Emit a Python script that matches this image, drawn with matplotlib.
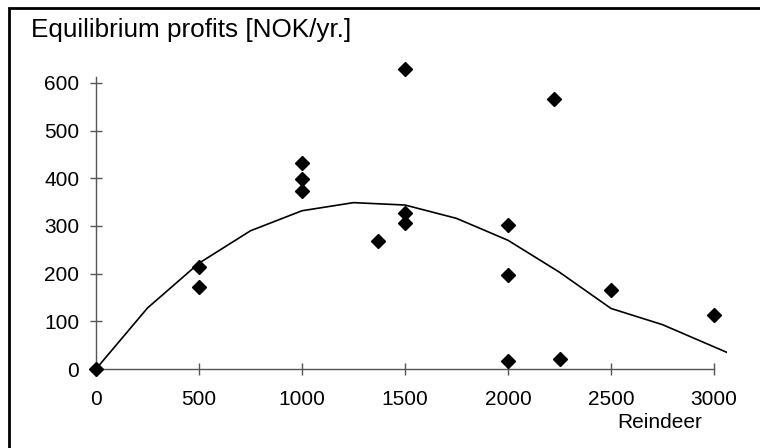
import matplotlib
matplotlib.use("Agg")
import matplotlib.pyplot as plt
from matplotlib.patches import Rectangle

plt.rcParams['font.family'] = ['Liberation Sans', 'DejaVu Sans']

# --- observed data (diamonds) ---
obs_reindeer = [0, 500, 500, 1000, 1000, 1000, 1370, 1500, 1500, 1500,
                2000, 2000, 2000, 2225, 2250, 2500, 3000]
obs_profit = [0, 213, 171, 433, 399, 373, 269, 629, 328, 306,
              302, 197, 17, 566, 21, 165, 114]

# --- model curve ---
model_reindeer = [0, 250, 500, 750, 1000, 1250, 1500, 1750, 2000, 2250,
                  2500, 2750, 3250]
model_profit = [0, 128, 222, 290, 332, 349, 344, 316, 270, 203,
                127, 93, 0]

x_ticks = [0, 500, 1000, 1500, 2000, 2500, 3000]
y_ticks = [0, 100, 200, 300, 400, 500, 600]

W, H = 760, 448
fig = plt.figure(figsize=(W / 100, H / 100), dpi=100)
fig.patch.set_facecolor('white')

# axes placed in pixel terms
left, right, bottom, top = 96, 727.4, 369, 76.8
ax = fig.add_axes([left / W, 1 - bottom / H, (right - left) / W, (bottom - top) / H])
ax.set_facecolor('none')

ax.plot(model_reindeer, model_profit, color='black', lw=1.2, zorder=2)
ax.plot(obs_reindeer, obs_profit, linestyle='none', marker='D', ms=7.3,
        color='black', clip_on=False, zorder=3)

ax.set_xlim(0, 3065)
ax.set_ylim(0, 613)
ax.set_xticks(x_ticks)
ax.set_yticks(y_ticks)

for side in ['top', 'right']:
    ax.spines[side].set_visible(False)
ax.spines['bottom'].set_bounds(0, 3000)
for side in ['left', 'bottom']:
    ax.spines[side].set_color('#555555')
    ax.spines[side].set_linewidth(1.0)

ax.tick_params(direction='inout', length=9, width=1.0, color='#555555',
               labelsize=15, labelcolor='black')
ax.tick_params(axis='y', pad=7.5)
ax.tick_params(axis='x', pad=10.5)

# outer frame (right/bottom edges run off the image)
fig.patches.append(Rectangle((9 / W, -0.05), 1.0, 1 - 8 / H + 0.05,
                             transform=fig.transFigure, fill=False,
                             edgecolor='black', linewidth=2.0))

fig.text(31.5 / W, 1 - 37.5 / H, 'Equilibrium profits [NOK/yr.]',
         fontsize=18.8, va='baseline', ha='left')
fig.text(617 / W, 1 - 428 / H, 'Reindeer', fontsize=15, va='baseline', ha='left')

fig.savefig('out.png', dpi=100)
